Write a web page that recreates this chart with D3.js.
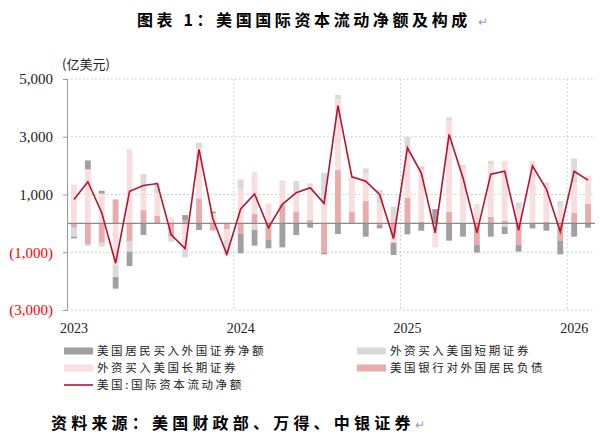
<!DOCTYPE html>
<html>
<head>
<meta charset="utf-8">
<script src="https://cdn.jsdelivr.net/npm/d3@7"></script>
<style>
  html, body { margin: 0; padding: 0; background: #fff; }
  svg { display: block; }
</style>
</head>
<body>
<svg id="chart" width="600" height="438"></svg>
<script>
// months Jan 2023 .. Feb 2026
const months = [
  "2023-01","2023-02","2023-03","2023-04","2023-05","2023-06","2023-07","2023-08","2023-09","2023-10","2023-11","2023-12",
  "2024-01","2024-02","2024-03","2024-04","2024-05","2024-06","2024-07","2024-08","2024-09","2024-10","2024-11","2024-12",
  "2025-01","2025-02","2025-03","2025-04","2025-05","2025-06","2025-07","2025-08","2025-09","2025-10","2025-11","2025-12",
  "2026-01","2026-02"
];
const yearLabels = ["2023", "2024", "2025", "2026"];
const yTicks = [5000, 3000, 1000, -1000, -3000];

// 美国居民买入外国证券净额
const residents = [-60, 310, 100, -400, -500, -400, 0, 0, 173, -230, 58, 0,
  -669, -542, -288, -830, -404, -150, -58, -369, 0, -461, -115, -427,
  -380, -254, 496, -600, -461, -265, -461, -254, -230, -173, -254, -461,
  -461, -150];
// 外资买入美国短期证券
const shortTerm = [-310, -50, -140, -420, -350, 600, 346, -173, -311, 196, 0, -520,
  346, -230, 0, 58, 404, 58, 770, 161, 0, 173, 461, 577,
  380, 138, 0, 92, 58, 0, 115, -115, 230, 0, 92, 173,
  865, 0];
// 外资买入美国长期证券
const longTerm = [1350, 1870, 1030, -1440, 2570, 650, 784, 207, -865, 1730, 350, -380,
  1176, 1464, 692, 761, 657, 1210, 980, 2445, 1210, 957, 692, -300,
  1730, 1795, -830, 3171, 1960, 669, 1822, 2075, 496, 2168, 1280, 600,
  1015, 980];
// 美国银行对外国居民负债
const bankLiab = [-150, -730, -670, 830, -630, 460, 254, -461, 115, 865, -250, -196,
  -369, 323, -577, 657, 404, 115, -1015, 1845, 404, 773, -58, -369,
  888, 50, 0, 404, 0, -750, 230, 92, -750, 0, 46, -611,
  369, 669];
// 美国:国际资本流动净额
const netFlow = [830, 1440, 370, -1380, 1110, 1310, 1380, -400, -870, 2560, 160, -1070,
  500, 1015, -150, 660, 1065, 1234, 692, 4080, 1614, 1460, 1000, -530,
  2617, 1740, -330, 3080, 1575, -330, 1706, 1805, -240, 1990, 1190, -290,
  1805, 1499];

const seriesNames = {
  res:   "美国居民买入外国证券净额",
  short: "外资买入美国短期证券",
  long:  "外资买入美国长期证券",
  bank:  "美国银行对外国居民负债",
  net:   "美国:国际资本流动净额"
};
const colors = {
  res:   "#a0a0a0",
  short: "#dadada",
  long:  "#f8dede",
  bank:  "#e8acac",
  net:   "#b8122e"
};

const serif = "'Liberation Serif', 'Times New Roman', serif";
const cjk   = "'Noto Sans CJK SC', sans-serif";

const svg = d3.select("#chart");

// title
svg.append("text")
  .attr("x", 137).attr("y", 26)
  .attr("font-family", cjk)
  .attr("font-size", "16px")
  .attr("font-weight", "bold")
  .attr("letter-spacing", "3.6px")
  .text("图表 1：美国国际资本流动净额及构成");
svg.append("text")
  .attr("x", 478).attr("y", 26)
  .attr("font-family", cjk)
  .attr("font-size", "12px")
  .attr("fill", "#7f9fc8")
  .text("↵");

const x = d3.scaleBand()
  .domain(months)
  .range([67, 595])
  .paddingInner(0.58)
  .paddingOuter(0.29);
const y = d3.scaleLinear()
  .domain([-3000, 5000])
  .range([310, 79]);

// unit label
svg.append("text")
  .attr("x", 62).attr("y", 69)
  .attr("font-family", cjk)
  .attr("font-size", "13px")
  .attr("fill", "#222")
  .text("(亿美元)");

// horizontal dotted grid
svg.append("g")
  .selectAll("line")
  .data(yTicks)
  .enter().append("line")
  .attr("x1", 67).attr("x2", 595)
  .attr("y1", d => y(d)).attr("y2", d => y(d))
  .attr("stroke", "#c4c4c4")
  .attr("stroke-width", 1)
  .attr("stroke-dasharray", "1.5,2.5");

// vertical dotted lines at year boundaries
const yearStarts = months.filter((m, i) => i > 0 && m.endsWith("-01"));
svg.append("g")
  .selectAll("line")
  .data(yearStarts)
  .enter().append("line")
  .attr("x1", d => x(d) - x.step() * x.paddingInner() / 2)
  .attr("x2", d => x(d) - x.step() * x.paddingInner() / 2)
  .attr("y1", 79).attr("y2", 310)
  .attr("stroke", "#c4c4c4")
  .attr("stroke-width", 1)
  .attr("stroke-dasharray", "1.5,2.5");

// stacked bars (diverging)
const rows = months.map((m, i) => ({
  month: m,
  bank: bankLiab[i],
  long: longTerm[i],
  short: shortTerm[i],
  res: residents[i]
}));
const stack = d3.stack()
  .keys(["bank", "long", "short", "res"])
  .offset(d3.stackOffsetDiverging);
const layers = stack(rows);

svg.append("g")
  .selectAll("g")
  .data(layers)
  .enter().append("g")
  .attr("fill", d => colors[d.key])
  .selectAll("rect")
  .data(d => d)
  .enter().append("rect")
  .attr("x", d => x(d.data.month))
  .attr("width", x.bandwidth())
  .attr("y", d => y(Math.max(d[0], d[1])))
  .attr("height", d => Math.abs(y(d[0]) - y(d[1])));

// zero line
svg.append("line")
  .attr("x1", 67).attr("x2", 595)
  .attr("y1", y(0)).attr("y2", y(0))
  .attr("stroke", "#8a8a8a")
  .attr("stroke-width", 1.2);

// y axis
const yAxis = d3.axisLeft(y)
  .tickValues(yTicks)
  .tickSize(4)
  .tickPadding(10)
  .tickFormat(d => d < 0 ? `(${d3.format(",")(-d)})` : d3.format(",")(d));
const yG = svg.append("g")
  .attr("transform", "translate(67,0)")
  .call(yAxis);
yG.select(".domain").attr("stroke", "#9a9a9a");
yG.selectAll(".tick line").attr("stroke", "#9a9a9a");
yG.selectAll(".tick text")
  .attr("font-family", serif)
  .attr("font-size", "15px")
  .attr("fill", d => d < 0 ? "#ff0000" : "#222");

// net flow line
const line = d3.line()
  .x((d, i) => x(months[i]) + x.bandwidth() / 2)
  .y(d => y(d));
svg.append("path")
  .datum(netFlow)
  .attr("fill", "none")
  .attr("stroke", colors.net)
  .attr("stroke-width", 1.6)
  .attr("d", line);

// year labels under January bars
svg.append("g")
  .selectAll("text")
  .data(yearLabels)
  .enter().append("text")
  .attr("x", d => x(d + "-01") + x.bandwidth() / 2)
  .attr("y", 333)
  .attr("text-anchor", "middle")
  .attr("font-family", serif)
  .attr("font-size", "14px")
  .attr("fill", "#222")
  .text(d => d);

// legend
const legendItems = [
  { key: "res",   col: 0, row: 0 },
  { key: "short", col: 1, row: 0 },
  { key: "long",  col: 0, row: 1 },
  { key: "bank",  col: 1, row: 1 },
  { key: "net",   col: 0, row: 2 }
];
const legend = svg.append("g");
legendItems.forEach(it => {
  const lx = it.col === 0 ? 64 : 357;
  const ly = 351 + it.row * 17;
  if (it.key === "net") {
    legend.append("line")
      .attr("x1", lx).attr("x2", lx + 29)
      .attr("y1", ly).attr("y2", ly)
      .attr("stroke", colors.net)
      .attr("stroke-width", 1.6);
  } else {
    legend.append("rect")
      .attr("x", lx).attr("y", ly - 3.5)
      .attr("width", 29).attr("height", 7)
      .attr("fill", colors[it.key]);
  }
  legend.append("text")
    .attr("x", lx + 33).attr("y", ly)
    .attr("dy", "0.36em")
    .attr("font-family", cjk)
    .attr("font-size", "11.5px")
    .attr("letter-spacing", "2.6px")
    .attr("fill", "#222")
    .text(seriesNames[it.key]);
});

// source
svg.append("text")
  .attr("x", 51).attr("y", 429)
  .attr("font-family", cjk)
  .attr("font-size", "16px")
  .attr("font-weight", "bold")
  .attr("letter-spacing", "4.2px")
  .text("资料来源：美国财政部、万得、中银证券");
svg.append("text")
  .attr("x", 415).attr("y", 429)
  .attr("font-family", cjk)
  .attr("font-size", "12px")
  .attr("fill", "#7f9fc8")
  .text("↵");
</script>
</body>
</html>
